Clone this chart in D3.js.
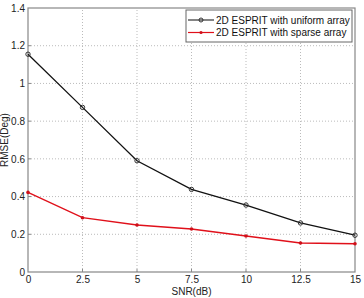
<!DOCTYPE html>
<html>
<head>
<meta charset="utf-8">
<script src="https://d3js.org/d3.v7.min.js"></script>
<style>
  body { margin: 0; background: #fff; }
  svg { display: block; font-family: Arial, "Liberation Sans", sans-serif; }
</style>
</head>
<body>
<div id="chart"></div>
<script>
// SNR values and RMSE readings
const snr = [0, 2.5, 5, 7.5, 10, 12.5, 15];
const uniformRmse = [1.155, 0.873, 0.59, 0.438, 0.355, 0.26, 0.195];
const sparseRmse = [0.422, 0.288, 0.249, 0.228, 0.191, 0.154, 0.15];
const xTicks = [0, 2.5, 5, 7.5, 10, 12.5, 15];
const yTicks = [0, 0.2, 0.4, 0.6, 0.8, 1, 1.2, 1.4];
const seriesNames = ['2D ESPRIT with uniform array', '2D ESPRIT with sparse array'];

const width = 364, height = 298;
const margin = { top: 8, right: 9, bottom: 26, left: 28 };

const svg = d3.select('#chart').append('svg')
  .attr('width', width)
  .attr('height', height);

const x = d3.scaleLinear().domain([0, 15]).range([margin.left, width - margin.right]);
const y = d3.scaleLinear().domain([0, 1.4]).range([height - margin.bottom, margin.top]);

// Grid lines
const grid = svg.append('g').attr('class', 'grid');
grid.selectAll('.vgrid')
  .data(xTicks.slice(1, -1))
  .enter().append('line')
  .attr('x1', d => x(d)).attr('x2', d => x(d))
  .attr('y1', y(0)).attr('y2', y(1.4))
  .style('stroke', '#bbb')
  .style('stroke-dasharray', '1,2');
grid.selectAll('.hgrid')
  .data(yTicks.slice(1, -1))
  .enter().append('line')
  .attr('y1', d => y(d)).attr('y2', d => y(d))
  .attr('x1', x(0)).attr('x2', x(15))
  .style('stroke', '#bbb')
  .style('stroke-dasharray', '1,2');

// Axis frame
svg.append('rect')
  .attr('x', x(0)).attr('y', y(1.4))
  .attr('width', x(15) - x(0)).attr('height', y(0) - y(1.4))
  .style('fill', 'none')
  .style('stroke', '#888')
  .style('stroke-width', 1.2);

// Axes
const xAxis = svg.append('g')
  .attr('transform', `translate(0,${y(0)})`)
  .call(d3.axisBottom(x).tickValues(xTicks).tickSize(0).tickPadding(4)
    .tickFormat(d => d3.format('')(d)));
const yAxis = svg.append('g')
  .attr('transform', `translate(${x(0)},0)`)
  .call(d3.axisLeft(y).tickValues(yTicks).tickSize(0).tickPadding(3)
    .tickFormat(d => d3.format('')(d)));
[xAxis, yAxis].forEach(a => {
  a.select('.domain').remove();
  a.selectAll('text')
    .style('font-size', '10px')
    .style('font-family', 'Arial, "Liberation Sans", sans-serif')
    .style('fill', '#222');
});
// inner ticks
svg.append('g').selectAll('line')
  .data(xTicks.slice(1, -1))
  .enter().append('line')
  .attr('x1', d => x(d)).attr('x2', d => x(d))
  .attr('y1', y(0)).attr('y2', y(0) - 3)
  .style('stroke', '#888');
svg.append('g').selectAll('line')
  .data(yTicks.slice(1, -1))
  .enter().append('line')
  .attr('y1', d => y(d)).attr('y2', d => y(d))
  .attr('x1', x(0)).attr('x2', x(0) + 3)
  .style('stroke', '#888');

// Axis labels
svg.append('text')
  .attr('x', (x(0) + x(15)) / 2)
  .attr('y', height - 3)
  .attr('text-anchor', 'middle')
  .style('font-size', '10px')
  .style('fill', '#222')
  .text('SNR(dB)');
svg.append('text')
  .attr('transform', `translate(8,${(y(0) + y(1.4)) / 2}) rotate(-90)`)
  .attr('text-anchor', 'middle')
  .style('font-size', '10px')
  .style('fill', '#222')
  .text('RMSE(Deg)');

// Lines
const line = d3.line().x((d, i) => x(snr[i])).y(d => y(d));

svg.append('path')
  .datum(uniformRmse)
  .attr('d', line)
  .style('fill', 'none')
  .style('stroke', '#111')
  .style('stroke-width', 1.3);
svg.selectAll('.umark')
  .data(uniformRmse)
  .enter().append('circle')
  .attr('cx', (d, i) => x(snr[i]))
  .attr('cy', d => y(d))
  .attr('r', 2.2)
  .style('fill', 'none')
  .style('stroke', '#333')
  .style('stroke-width', 1);

svg.append('path')
  .datum(sparseRmse)
  .attr('d', line)
  .style('fill', 'none')
  .style('stroke', '#e0101a')
  .style('stroke-width', 1.4);
svg.selectAll('.smark')
  .data(sparseRmse)
  .enter().append('circle')
  .attr('cx', (d, i) => x(snr[i]))
  .attr('cy', d => y(d))
  .attr('r', 1.8)
  .style('fill', '#d0101a');

// Legend
const legend = svg.append('g');
legend.append('rect')
  .attr('x', 186).attr('y', 10)
  .attr('width', 166).attr('height', 32)
  .style('fill', '#fff')
  .style('stroke', '#666')
  .style('stroke-width', 1);
const legendColors = ['#333', '#e0101a'];
seriesNames.forEach((name, i) => {
  const ly = 20 + i * 12.5;
  legend.append('line')
    .attr('x1', 188).attr('x2', 214)
    .attr('y1', ly).attr('y2', ly)
    .style('stroke', legendColors[i])
    .style('stroke-width', 1.2);
  if (i === 0) {
    legend.append('circle').attr('cx', 201).attr('cy', ly).attr('r', 2)
      .style('fill', 'none').style('stroke', '#333');
  } else {
    legend.append('circle').attr('cx', 201).attr('cy', ly).attr('r', 1.6)
      .style('fill', '#d0101a');
  }
  legend.append('text')
    .attr('x', 216).attr('y', ly + 3.5)
    .style('font-size', '10px')
    .style('fill', '#111')
    .text(name);
});
</script>
</body>
</html>
